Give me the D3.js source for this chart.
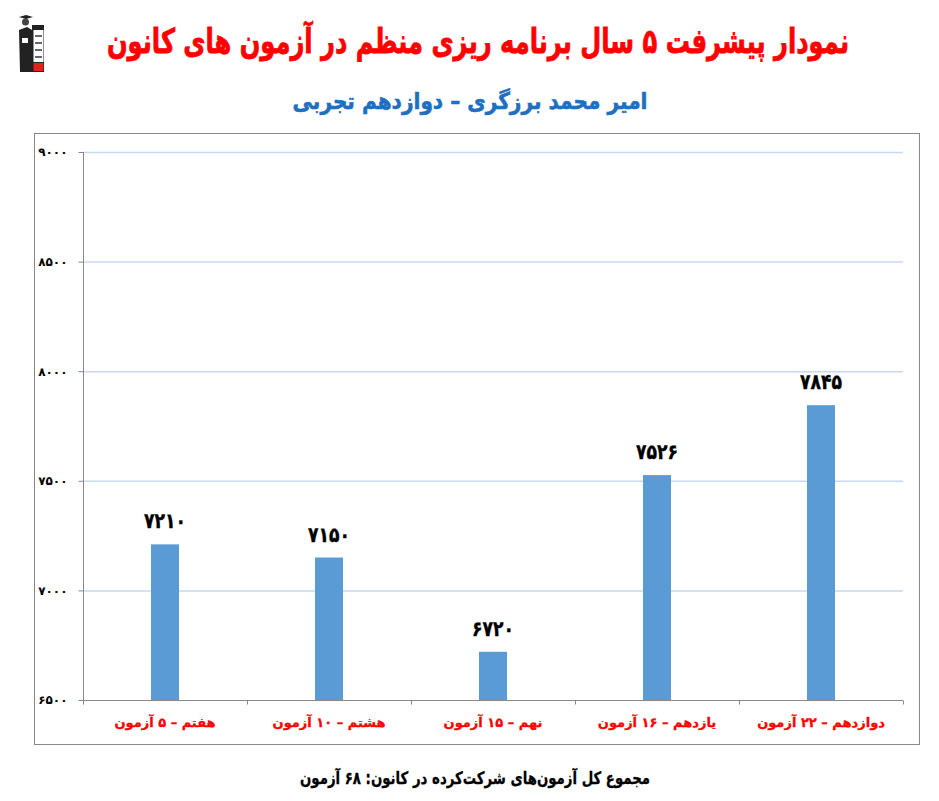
<!DOCTYPE html>
<html><head><meta charset="utf-8">
<script src="https://cdn.jsdelivr.net/npm/d3@7"></script>
<style>body{margin:0;background:#fff}svg{display:block}text{font-family:"DejaVu Sans",sans-serif}</style>
</head><body><svg id="c" width="939" height="801"></svg>
<script>
const categories = ["هفتم – ۵ آزمون","هشتم – ۱۰ آزمون","نهم – ۱۵ آزمون","یازدهم – ۱۶ آزمون","دوازدهم – ۲۲ آزمون"];
const values = [7210, 7150, 6720, 7526, 7845];
const yTicks = [6500, 7000, 7500, 8000, 8500, 9000];
const title = "نمودار پیشرفت ۵ سال برنامه ریزی منظم در آزمون های کانون";
const subtitle = "امیر محمد برزگری – دوازدهم تجربی";
const footer = "مجموع کل آزمون‌های شرکت‌کرده در کانون:  ۶۸ آزمون";

const fa = n => String(n).replace(/\d/g, d => "۰۱۲۳۴۵۶۷۸۹"[d]);
const svg = d3.select("#c");

// logo (simple drawing)
const logo = svg.append("g");
logo.append("rect").attr("x",32).attr("y",25).attr("width",12).attr("height",47).attr("fill","#222");
logo.append("rect").attr("x",33.5).attr("y",30).attr("width",10).attr("height",32).attr("fill","#fff");
[35,42,49,56].forEach(v=>logo.append("rect").attr("x",35).attr("y",v).attr("width",7).attr("height",2).attr("fill","#666"));
logo.append("rect").attr("x",33.5).attr("y",63).attr("width",10).attr("height",8).attr("fill","#e2231a");
logo.append("path").attr("d","M19,30 L27,27 L32,30 L32,72 L20,72 Z").attr("fill","#222");
logo.append("circle").attr("cx",25.5).attr("cy",22).attr("r",3.5).attr("fill","#444");
logo.append("path").attr("d","M19,17 L26,15 L33,17 L26,19 Z").attr("fill","#222");
logo.append("rect").attr("x",22).attr("y",38).attr("width",6).attr("height",5).attr("fill","#fff");

// titles
svg.append("text").attr("x",478).attr("y",53).attr("text-anchor","middle")
  .attr("font-size",34).attr("font-weight","bold").attr("fill","#ff0000")
  .attr("stroke","#ff0000").attr("stroke-width",0.8)
  .attr("textLength",742).attr("lengthAdjust","spacingAndGlyphs")
  .attr("direction","rtl").text(title);
svg.append("text").attr("x",470).attr("y",109).attr("text-anchor","middle")
  .attr("font-size",23).attr("font-weight","bold").attr("fill","#1f6fc0")
  .attr("stroke","#1f6fc0").attr("stroke-width",0.6)
  .attr("textLength",355).attr("lengthAdjust","spacingAndGlyphs")
  .attr("direction","rtl").text(subtitle);

// frame
svg.append("rect").attr("x",34.5).attr("y",133.5).attr("width",885).attr("height",611)
  .attr("fill","none").attr("stroke","#888").attr("stroke-width",1);

const m = {l:83, r:903, t:152, b:700};
const x = d3.scaleBand().domain(categories).range([m.l, m.r]).paddingInner(0).paddingOuter(0);
const y = d3.scaleLinear().domain([6500, 9000]).range([m.b, m.t]);

// grid
svg.append("g").selectAll("line").data(yTicks.slice(1)).join("line")
  .attr("x1",m.l).attr("x2",m.r).attr("y1",d=>y(d)+0.5).attr("y2",d=>y(d)+0.5)
  .attr("stroke","#c6d9f1").attr("stroke-width",1.5);

// y axis
const ya = svg.append("g").attr("transform",`translate(${m.l+0.5},0)`)
  .call(d3.axisLeft(y).tickValues(yTicks).tickSize(5).tickPadding(11).tickFormat(fa));
ya.selectAll("line").attr("stroke","#888");
ya.select(".domain").attr("stroke","#888").attr("d",`M0,${m.t}V${m.b}`);
ya.selectAll("text").attr("font-size",12).attr("font-weight","bold").attr("fill","#000")
  .attr("font-family","DejaVu Sans");

// bars
const bw = 28;
svg.append("g").selectAll("rect").data(values).join("rect")
  .attr("x",(d,i)=>x(categories[i])+x.bandwidth()/2-bw/2).attr("width",bw)
  .attr("y",d=>y(d)).attr("height",d=>y(6500)-y(d)).attr("fill","#5b9bd5");

// value labels
svg.append("g").selectAll("text").data(values).join("text")
  .attr("x",(d,i)=>x(categories[i])+x.bandwidth()/2).attr("y",d=>y(d)-16)
  .attr("text-anchor","middle").attr("font-size",21).attr("font-weight","bold").attr("fill","#000")
  .attr("stroke","#000").attr("stroke-width",0.4)
  .attr("textLength",42).attr("lengthAdjust","spacingAndGlyphs")
  .text(fa);

// x axis
const xa = svg.append("g").attr("transform",`translate(0,${m.b+0.5})`)
  .call(d3.axisBottom(x).tickSize(0).tickPadding(17));
xa.select(".domain").attr("stroke","#888").attr("d",`M${m.l},0H${m.r}`);
xa.selectAll("text").attr("font-size",13).attr("font-weight","bold").attr("fill","#ff0000")
  .attr("stroke","#ff0000").attr("stroke-width",0.3)
  .attr("font-family","DejaVu Sans").attr("direction","rtl");
const bounds = d3.range(categories.length+1).map(i=>m.l + i*x.bandwidth());
xa.append("g").selectAll("line").data(bounds).join("line")
  .attr("x1",d=>d+0.5).attr("x2",d=>d+0.5).attr("y1",0).attr("y2",4).attr("stroke","#888");

// footer
svg.append("text").attr("x",475).attr("y",784).attr("text-anchor","middle")
  .attr("font-size",17).attr("font-weight","bold").attr("fill","#000")
  .attr("stroke","#000").attr("stroke-width",0.3)
  .attr("textLength",350).attr("lengthAdjust","spacingAndGlyphs")
  .attr("direction","rtl").text(footer);
</script></body></html>
